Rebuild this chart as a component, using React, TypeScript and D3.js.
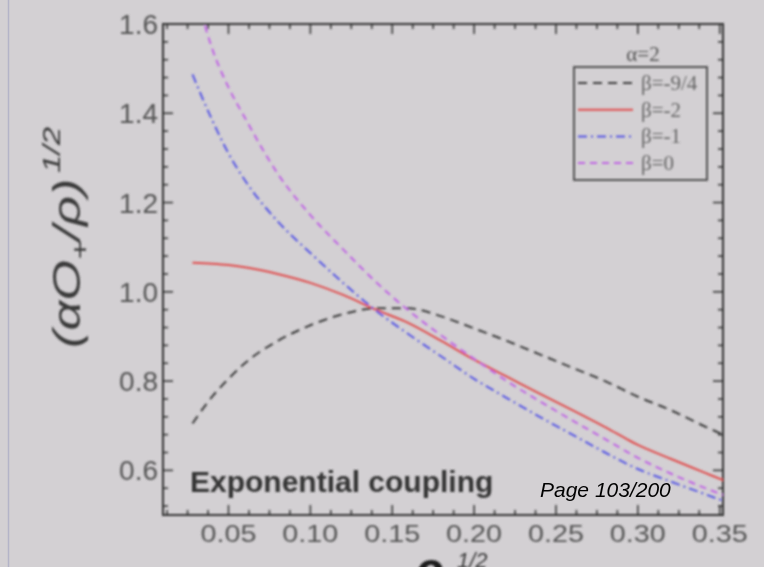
import { useEffect, useRef } from "react"
import * as d3 from "d3"

// x = rho^(1/2), shared by every curve
const xValues = [0.028, 0.04, 0.05, 0.06, 0.08, 0.1, 0.12, 0.14, 0.16, 0.18, 0.2, 0.22, 0.24, 0.26, 0.28, 0.3, 0.32, 0.34, 0.352]

const betaM94 = [0.705, 0.765, 0.805, 0.84, 0.89, 0.925, 0.95, 0.963, 0.963, 0.945, 0.918, 0.89, 0.86, 0.83, 0.8, 0.765, 0.735, 0.7, 0.68]
const betaM2 = [1.065, 1.063, 1.06, 1.055, 1.04, 1.02, 0.993, 0.96, 0.93, 0.89, 0.848, 0.81, 0.772, 0.735, 0.697, 0.657, 0.626, 0.596, 0.578]
const betaM1 = [1.487, 1.385, 1.31, 1.25, 1.158, 1.087, 1.02, 0.958, 0.905, 0.855, 0.805, 0.762, 0.72, 0.68, 0.64, 0.603, 0.575, 0.548, 0.532]
const beta0 = [1.7, 1.545, 1.458, 1.39, 1.265, 1.172, 1.095, 1.022, 0.958, 0.902, 0.85, 0.8, 0.755, 0.712, 0.67, 0.628, 0.593, 0.562, 0.545]

const seriesLabels = ["β=-9/4", "β=-2", "β=-1", "β=0"]
const xTickValues = [0.05, 0.1, 0.15, 0.2, 0.25, 0.3, 0.35]
const yTickValues = [0.6, 0.8, 1.0, 1.2, 1.4, 1.6]

const W = 764
const H = 567

export default function App() {
  const svgRef = useRef<SVGSVGElement>(null)

  useEffect(() => {
    const svg = d3.select(svgRef.current)
    svg.selectAll("*").remove()

    const left = 163, right = 723, top = 24, bottom = 515

    const x = d3.scaleLinear().domain([0.01, 0.352]).range([left, right])
    const y = d3.scaleLinear().domain([0.5, 1.6]).range([bottom, top])

    const defs = svg.append("defs")
    defs.append("filter").attr("id", "soft").append("feGaussianBlur").attr("stdDeviation", 0.8)
    defs.append("clipPath").attr("id", "plot")
      .append("rect").attr("x", left).attr("y", top).attr("width", right - left).attr("height", bottom - top)

    svg.append("rect").attr("width", W).attr("height", H).attr("fill", "#d3d0d3")
    svg.append("line").attr("x1", 8.5).attr("x2", 8.5).attr("y1", 0).attr("y2", H)
      .attr("stroke", "#b4b4c8").attr("stroke-width", 1.5)

    const g = svg.append("g").attr("filter", "url(#soft)")

    // ticks on all four sides, pointing inward
    const xMinor = d3.range(0.0125, 0.352, 0.0125).filter((v) => Math.abs(v / 0.05 - Math.round(v / 0.05)) > 1e-6)
    const yMinor = d3.range(0.52, 1.6, 0.04).filter((v) => Math.abs(v / 0.2 - Math.round(v / 0.2)) > 1e-6)
    const tickCol = "#3a3a3a"
    const addXTicks = (vals: number[], len: number) => {
      vals.forEach((v) => {
        g.append("line").attr("x1", x(v)).attr("x2", x(v)).attr("y1", bottom).attr("y2", bottom - len)
          .attr("stroke", tickCol).attr("stroke-width", 1.6)
        g.append("line").attr("x1", x(v)).attr("x2", x(v)).attr("y1", top).attr("y2", top + len)
          .attr("stroke", tickCol).attr("stroke-width", 1.6)
      })
    }
    const addYTicks = (vals: number[], len: number) => {
      vals.forEach((v) => {
        g.append("line").attr("x1", left).attr("x2", left + len).attr("y1", y(v)).attr("y2", y(v))
          .attr("stroke", tickCol).attr("stroke-width", 1.6)
        g.append("line").attr("x1", right).attr("x2", right - len).attr("y1", y(v)).attr("y2", y(v))
          .attr("stroke", tickCol).attr("stroke-width", 1.6)
      })
    }
    addXTicks(xMinor, 5)
    addXTicks(xTickValues, 10)
    addYTicks(yMinor, 5)
    addYTicks(yTickValues, 10)

    g.append("rect").attr("x", left).attr("y", top).attr("width", right - left).attr("height", bottom - top)
      .attr("fill", "none").attr("stroke", "#333").attr("stroke-width", 2)

    // tick labels
    g.selectAll(".xl").data(xTickValues).join("text")
      .attr("x", (d) => x(d)).attr("y", 542).attr("text-anchor", "middle")
      .attr("font-family", "'Liberation Sans', Arial, sans-serif").attr("font-size", 24)
      .attr("textLength", 56).attr("lengthAdjust", "spacingAndGlyphs")
      .attr("fill", "#555").text((d) => d3.format(".2f")(d))
    g.selectAll(".yl").data(yTickValues).join("text")
      .attr("x", 158).attr("y", (d) => y(d) + 10).attr("text-anchor", "end")
      .attr("font-family", "'Liberation Sans', Arial, sans-serif").attr("font-size", 28)
      .attr("fill", "#555").text((d) => d3.format(".1f")(d))

    // curves
    const series = [
      { vals: betaM94, color: "#3c3c3c", dash: "9,6" },
      { vals: betaM2, color: "#e04e4e", dash: null },
      { vals: betaM1, color: "#5858e4", dash: "9,4,2,4" },
      { vals: beta0, color: "#c066e4", dash: "7,5" },
    ]
    const line = d3.line<number>()
      .x((_, i) => x(xValues[i]))
      .y((d) => y(d))
      .curve(d3.curveMonotoneX)
    const curves = g.append("g").attr("clip-path", "url(#plot)")
    series.forEach((s) => {
      curves.append("path").datum(s.vals).attr("d", line)
        .attr("fill", "none").attr("stroke", s.color).attr("stroke-width", 2)
        .attr("stroke-dasharray", s.dash)
    })

    // legend
    g.append("text").attr("x", 643).attr("y", 61).attr("text-anchor", "middle")
      .attr("font-family", "'Liberation Serif', 'Times New Roman', serif").attr("font-size", 21)
      .attr("fill", "#555").text("α=2")
    g.append("rect").attr("x", 574).attr("y", 67).attr("width", 133).attr("height", 113)
      .attr("fill", "none").attr("stroke", "#333").attr("stroke-width", 1.6)
    series.forEach((s, i) => {
      const ly = 83 + i * 26.7
      g.append("line").attr("x1", 578).attr("x2", 633).attr("y1", ly).attr("y2", ly)
        .attr("stroke", s.color).attr("stroke-width", 2).attr("stroke-dasharray", s.dash)
      g.append("text").attr("x", 641).attr("y", ly + 7)
        .attr("font-family", "'Liberation Serif', 'Times New Roman', serif").attr("font-size", 21)
        .attr("fill", "#666").text(seriesLabels[i])
    })

    g.append("text").attr("x", 190).attr("y", 492)
      .attr("font-family", "'Liberation Sans', Arial, sans-serif").attr("font-size", 30).attr("font-weight", "bold")
      .attr("fill", "#363636").text("Exponential coupling")

    // axis titles
    const yt = g.append("text").attr("transform", "translate(80,348) rotate(-90) scale(1.38,1)")
      .attr("font-family", "'Liberation Sans', Arial, sans-serif").attr("font-style", "italic")
      .attr("font-size", 38).attr("fill", "#3a3a3a")
    yt.append("tspan").text("(αO")
    yt.append("tspan").attr("font-size", 24).attr("dy", 8).text("+")
    yt.append("tspan").attr("dy", -8).text("/ρ)")
    yt.append("tspan").attr("font-size", 24).attr("dy", -20).attr("dx", 4).text("1/2")

    g.append("text").attr("x", 414).attr("y", 587)
      .attr("font-family", "'Liberation Sans', Arial, sans-serif").attr("font-style", "italic").attr("font-weight", "bold")
      .attr("font-size", 50).attr("fill", "#1e1e1e").text("ρ")
    g.append("text").attr("x", 457).attr("y", 568)
      .attr("font-family", "'Liberation Sans', Arial, sans-serif").attr("font-style", "italic")
      .attr("font-size", 22).attr("fill", "#3a3a3a").text("1/2")

    // page overlay, sharp
    svg.append("text").attr("x", 540).attr("y", 497)
      .attr("font-family", "'Liberation Sans', Arial, sans-serif").attr("font-style", "italic")
      .attr("font-size", 21).attr("fill", "#000").text("Page 103/200")
  }, [])

  return <svg ref={svgRef} width={W} height={H} style={{ position: "absolute", left: 0, top: 0 }} />
}
